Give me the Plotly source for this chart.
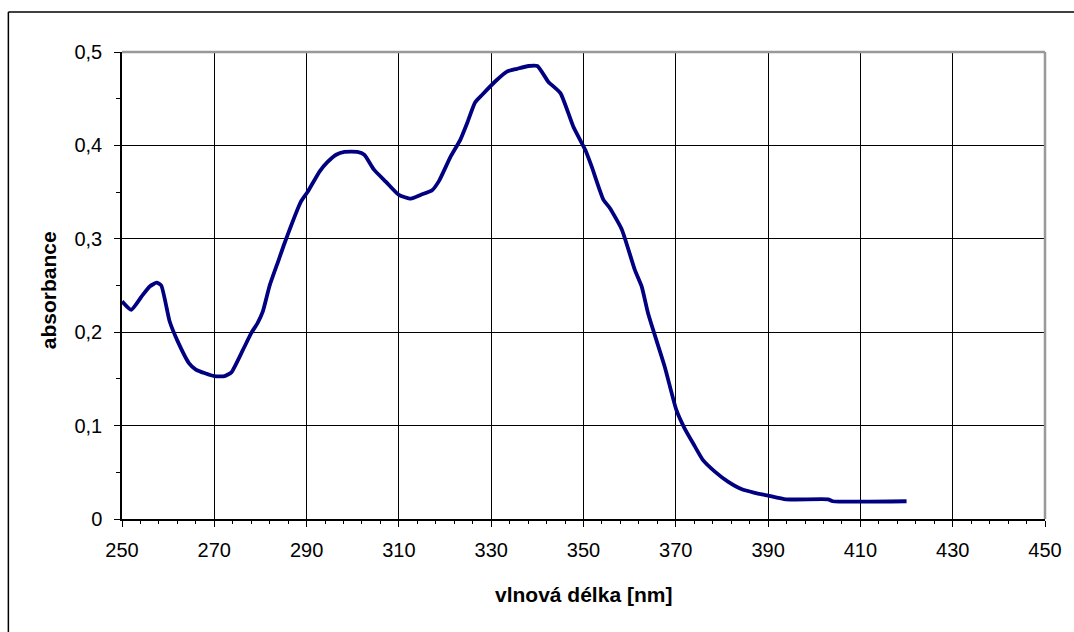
import plotly.graph_objects as go

wavelength = [250, 252, 254.5, 256, 257.5, 258.5, 260.3, 262, 264.5, 266, 268, 270, 272.2, 273.7,
              276.2, 278, 279.4, 280.5, 282, 284, 285.2, 288.8, 290.2, 292.8, 294.5, 296.4, 298.2,
              301, 302.5, 304.6, 307.2, 310, 312.6, 314.7, 317.2, 318.7, 321.2, 323.3, 324.8, 326.5,
              328, 331.2, 333.4, 335.6, 338.1, 340, 342.4, 345, 347.8, 350.4, 351.8, 354.3, 355.7,
              358.3, 361.1, 362.6, 364, 367.6, 370.1, 371.9, 374.1, 375.9, 378.4, 381.3, 384.2,
              387.1, 390, 393.9, 403, 404, 420]
absorbance = [0.233, 0.224, 0.240, 0.249, 0.253, 0.250, 0.212, 0.191, 0.167, 0.160, 0.156, 0.153,
              0.153, 0.157, 0.181, 0.199, 0.210, 0.222, 0.250, 0.278, 0.295, 0.340, 0.350, 0.372,
              0.382, 0.390, 0.393, 0.393, 0.390, 0.374, 0.361, 0.347, 0.343, 0.347, 0.352, 0.362,
              0.388, 0.406, 0.424, 0.446, 0.454, 0.470, 0.479, 0.482, 0.485, 0.485, 0.468, 0.456,
              0.420, 0.395, 0.377, 0.342, 0.333, 0.310, 0.267, 0.249, 0.220, 0.163, 0.117, 0.097,
              0.078, 0.063, 0.051, 0.040, 0.032, 0.028, 0.025, 0.021, 0.021, 0.019, 0.019]

x_title = "vlnová délka [nm]"
y_title = "absorbance"

FONT = "Liberation Sans, Arial, sans-serif"

fig = go.Figure()
fig.add_trace(go.Scatter(x=wavelength, y=absorbance, mode="lines",
                         line=dict(color="#000080", width=3.8, shape="spline", smoothing=0.5),
                         hoverinfo="x+y"))

L, R, T, B = 122, 26, 52, 113
W, H = 1074, 632
pw, ph = W - L - R, H - T - B

fig.update_layout(
    width=W, height=H,
    margin=dict(l=L, r=R, t=T, b=B, pad=0),
    paper_bgcolor="white", plot_bgcolor="white",
    showlegend=False,
    separators=", ",
    font=dict(family=FONT, size=20, color="black"),
    xaxis=dict(range=[250, 450], tickmode="linear", tick0=250, dtick=20,
               showgrid=True, gridcolor="black", gridwidth=1,
               showline=True, linecolor="black", linewidth=1.5,
               ticks="outside", ticklen=6, tickcolor="black",
               minor=dict(dtick=4, tick0=250, ticks="outside", ticklen=3, tickcolor="black", showgrid=False),
               tickfont=dict(size=20), zeroline=False, ticklabelstandoff=6),
    yaxis=dict(range=[0, 0.5], tickmode="linear", tick0=0, dtick=0.1,
               showgrid=True, gridcolor="black", gridwidth=1,
               showline=True, linecolor="black", linewidth=1.5,
               ticks="outside", ticklen=6, tickcolor="black",
               minor=dict(dtick=0.05, ticks="outside", ticklen=4, tickcolor="black", showgrid=False),
               tickfont=dict(size=20), zeroline=False, tickformat=".1~f", ticklabelstandoff=8),
    annotations=[
        dict(text=f"<b>{x_title}</b>", xref="paper", yref="paper", x=0.5, y=(H - B - 594) / ph,
             xanchor="center", yanchor="middle", showarrow=False, font=dict(size=21)),
        dict(text=f"<b>{y_title}</b>", xref="paper", yref="paper", x=(48 - L) / pw, y=(H - B - 290) / ph,
             xanchor="center", yanchor="middle", showarrow=False, textangle=-90, font=dict(size=21)),
    ],
    shapes=[
        dict(type="line", xref="paper", yref="paper", x0=0, x1=1, y0=1, y1=1,
             line=dict(color="#999999", width=2.5)),
        dict(type="line", xref="paper", yref="paper", x0=1, x1=1, y0=0, y1=1,
             line=dict(color="#999999", width=2.5)),
        dict(type="line", xref="paper", yref="paper",
             x0=(8 - L) / pw, x1=(1080 - L) / pw, y0=(H - B - 12) / ph, y1=(H - B - 12) / ph,
             line=dict(color="black", width=1.5)),
        dict(type="line", xref="paper", yref="paper",
             x0=(8 - L) / pw, x1=(8 - L) / pw, y0=(H - B - 12) / ph, y1=(H - B - 640) / ph,
             line=dict(color="black", width=1.5)),
    ],
)

fig.write_html("out.html")
